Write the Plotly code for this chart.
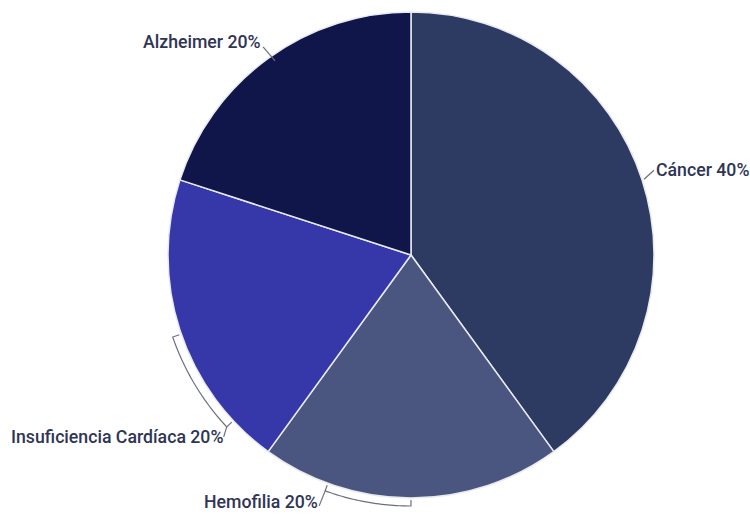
import math
import plotly.graph_objects as go

labels = ["Cáncer", "Hemofilia", "Insuficiencia Cardíaca", "Alzheimer"]
values = [40, 20, 20, 20]
colors = ["#2d3a62", "#4b5680", "#3638a9", "#10154a"]

W, H = 750, 516
CX, CY, R = 411, 255, 243

fig = go.Figure(go.Pie(
    labels=labels, values=values, sort=False, direction="clockwise", rotation=0,
    marker=dict(colors=colors, line=dict(color="#e8eaf0", width=1.5)),
    textinfo="none", hoverinfo="label+percent", showlegend=False,
    domain=dict(x=[(CX - R) / W, (CX + R) / W], y=[(H - CY - R) / H, (H - CY + R) / H]),
))

def P(x, y):
    return x / W, 1 - y / H

def pt(angle_deg, r):
    a = math.radians(angle_deg)
    return CX + r * math.sin(a), CY - r * math.cos(a)

total = sum(values)
line_style = dict(color="#6b6f80", width=1.2)
font = dict(family="Roboto", size=17.7, color="#2f3554", weight=500)
shapes = []
annotations = []

def add_path(points):
    d = "M " + " L ".join(f"{x/W:.5f},{1-y/H:.5f}" for x, y in points)
    shapes.append(dict(type="path", path=d, xref="paper", yref="paper", line=line_style))

def bracket(a0, a1, r_in, r_out):
    pts = [pt(a0, r_in)]
    n = 30
    for i in range(n + 1):
        pts.append(pt(a0 + (a1 - a0) * i / n, r_out))
    pts.append(pt(a1, r_in))
    add_path(pts)

cum = 0
mids = []
for v in values:
    mids.append((cum + v / 2) / total * 360)
    cum += v

# Cáncer: short connector
p0 = pt(mids[0], R + 2)
add_path([p0, (p0[0] + 10, p0[1] - 9)])
x, y = P(p0[0] + 10, p0[1] - 9)
annotations.append(dict(x=x, y=y, text=f"{labels[0]} {values[0]}%", xanchor="left", yanchor="middle"))

# Hemofilia: bracket along bottom
bracket(180, 200, R + 2, R + 8)
q = pt(200, R + 8)
add_path([q, (q[0] - 6, q[1] + 15)])
x, y = P(q[0] - 5, q[1] + 11)
annotations.append(dict(x=x, y=y, text=f"{labels[1]} {values[1]}%", xanchor="right", yanchor="middle"))

# Insuficiencia: bracket on left
bracket(227, 251, R + 2, R + 9)
q = pt(227, R + 9)
add_path([q, (q[0] - 3, q[1] + 10)])
x, y = P(q[0] - 2, q[1] + 10)
annotations.append(dict(x=x, y=y, text=f"{labels[2]} {values[2]}%", xanchor="right", yanchor="middle"))

# Alzheimer: diagonal connector
p0 = pt(325, R - 6)
add_path([p0, (p0[0] - 12, p0[1] - 14)])
x, y = P(p0[0] - 12, p0[1] - 19)
annotations.append(dict(x=x, y=y, text=f"{labels[3]} {values[3]}%", xanchor="right", yanchor="middle"))

for a in annotations:
    a.update(xref="paper", yref="paper", showarrow=False, font=font)

fig.update_layout(
    width=W, height=H, margin=dict(l=0, r=0, t=0, b=0),
    paper_bgcolor="white", plot_bgcolor="white",
    shapes=shapes, annotations=annotations,
)
fig.write_html("out.html", config={"displayModeBar": False},
               post_script="document.body.style.margin='0';")
